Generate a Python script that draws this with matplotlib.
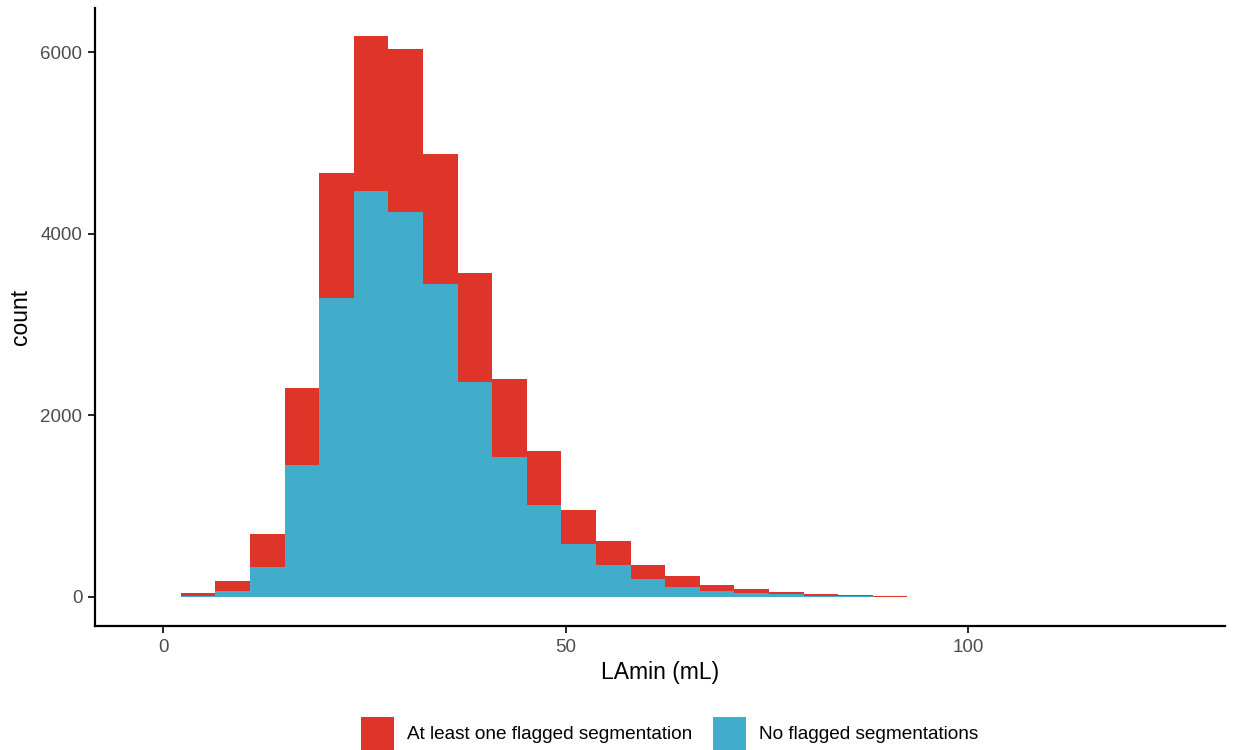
"""Stacked histogram of LAmin by segmentation flag status (ggplot classic look)."""

import matplotlib

matplotlib.use("Agg")

import matplotlib.pyplot as plt
from matplotlib.patches import Patch

plt.rcParams["font.family"] = ["Liberation Sans", "DejaVu Sans"]

# bin centres (mL), width
BIN_WIDTH = 4.3
bin_centers = [0.0, 4.3, 8.6, 12.9, 17.2, 21.5, 25.8, 30.1, 34.4, 38.7,
               43.0, 47.3, 51.6, 55.9, 60.2, 64.5, 68.8, 73.1, 77.4, 81.7,
               86.0, 90.3, 94.6, 98.9, 103.2, 107.5, 111.8, 116.1, 120.4, 124.7]

# counts per bin
no_flag = [0, 8, 66, 334, 1456, 3298, 4467, 4236, 3452, 2371,
           1544, 1015, 579, 347, 193, 105, 61, 42, 28, 11,
           6, 3, 1, 1, 2, 0, 0, 0, 0, 0]
total = [1, 47, 176, 695, 2305, 4666, 6177, 6033, 4875, 3563,
         2405, 1610, 954, 612, 347, 226, 130, 86, 50, 31,
         20, 8, 3, 2, 5, 1, 1, 0, 0, 1]
flagged = [t - n for t, n in zip(total, no_flag)]

RED = "#DE3429"
BLUE = "#42ADCB"
LABELS = ["At least one flagged segmentation", "No flagged segmentations"]

fig = plt.figure(figsize=(12.38, 7.5), dpi=100)
ax = fig.add_axes([0.0767, 0.1653, 0.9128, 0.824])

ax.bar(bin_centers, no_flag, width=BIN_WIDTH, color=BLUE, linewidth=0)
ax.bar(bin_centers, flagged, width=BIN_WIDTH, bottom=no_flag, color=RED, linewidth=0)

ax.set_xlim(-8.5, 131.9)
ax.set_ylim(-320, 6486)
ax.set_xticks([0, 50, 100])
ax.set_yticks([0, 2000, 4000, 6000])

for side in ("top", "right"):
    ax.spines[side].set_visible(False)
for side in ("left", "bottom"):
    ax.spines[side].set_linewidth(1.6)
    ax.spines[side].set_color("black")
ax.tick_params(length=5, width=1.2, color="black", labelsize=13.5,
               labelcolor="#4D4D4D", pad=4)

ax.set_xlabel("LAmin (mL)", fontsize=16.5, labelpad=4)
ax.set_ylabel("count", fontsize=16.5, labelpad=6)

handles = [Patch(facecolor=RED, edgecolor="none"),
           Patch(facecolor=BLUE, edgecolor="none")]
fig.legend(handles, LABELS, loc="lower center", bbox_to_anchor=(0.541, -0.023),
           ncol=2, frameon=False, fontsize=13.7, handlelength=1.72,
           handleheight=2.3, handletextpad=0.72, columnspacing=1.08)

fig.savefig("out.png", dpi=100)
plt.close(fig)
